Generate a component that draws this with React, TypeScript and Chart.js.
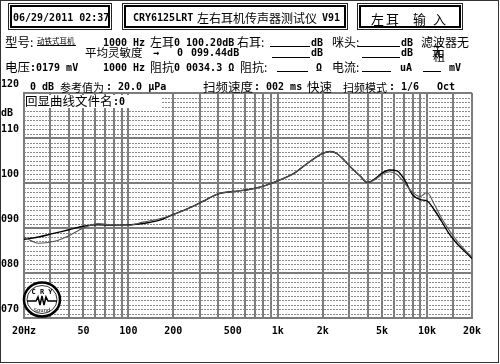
import React, { useEffect, useRef } from "react";
import { Chart, registerables } from "chart.js";
Chart.register(...registerables);

// ---- data ----
const freqs = [20, 25, 31.5, 40, 50, 63, 80, 100, 125, 160, 200, 250, 315, 400, 500, 630, 800, 1000, 1250, 1600, 2000, 2250, 2500, 2800, 3150, 3550, 4000, 4500, 5000, 5600, 6300, 7100, 8000, 9000, 10000, 11200, 12500, 14000, 16000, 18000, 20000];
const curveA = [87.5, 88.0, 88.8, 89.6, 90.4, 90.7, 90.6, 90.7, 91.0, 91.7, 93.0, 94.3, 95.9, 97.6, 98.1, 98.5, 99.3, 100.5, 101.9, 104.5, 106.6, 107.0, 106.5, 105.0, 103.2, 101.6, 100.1, 101.0, 102.2, 102.9, 102.7, 100.6, 97.4, 96.3, 96.0, 94.0, 91.5, 88.8, 86.4, 84.7, 83.2];
const curveB = [88.0, 86.6, 87.0, 88.3, 90.0, 91.0, 90.6, 90.6, 91.3, 92.0, 93.0, 94.3, 95.9, 97.6, 98.1, 98.5, 99.3, 100.5, 101.9, 104.5, 106.6, 107.0, 106.5, 105.0, 103.2, 101.6, 100.1, 100.8, 101.9, 102.5, 101.9, 99.9, 97.9, 97.0, 97.9, 95.2, 92.2, 89.6, 87.0, 85.1, 83.6];
const gridFreqs = [20, 30, 40, 50, 60, 70, 80, 90, 100, 200, 300, 400, 500, 600, 700, 800, 900, 1000, 2000, 3000, 4000, 5000, 6000, 7000, 8000, 9000, 10000, 15000, 20000];
const xLabelFreqs = [20, 50, 100, 200, 500, 1000, 2000, 5000, 10000, 20000];
const xLabelTexts = ["20Hz", "50", "100", "200", "500", "1k", "2k", "5k", "10k", "20k"];
const yTicks = [70, 80, 90, 100, 110, 120];
const yLabels = ["070", "080", "090", "100", "110", "120"];

const mono = '"DejaVu Sans Mono", monospace';
const cjk = '"Noto Sans CJK SC", sans-serif';

function T(props: { x: number; cy: number; size?: number; c?: boolean; bold?: boolean; children: any }) {
  const size = props.size ?? (props.c ? 12 : 10);
  const top = props.c ? props.cy - size / 2 : props.cy - 0.48 * size;
  return (
    <span
      style={{
        position: "absolute",
        left: props.x,
        top,
        fontFamily: props.c ? cjk : mono,
        fontSize: size,
        fontWeight: props.bold === false ? "normal" : props.c ? "normal" : "bold",
        lineHeight: 1,
        whiteSpace: "pre",
        color: "#000",
      }}
    >
      {props.children}
    </span>
  );
}

function U(props: { x1: number; x2: number; y: number }) {
  return (
    <div style={{ position: "absolute", left: props.x1, top: props.y, width: props.x2 - props.x1, height: 1, background: "#000" }} />
  );
}

function Box(props: { x: number; w: number; children?: any }) {
  return (
    <div style={{ position: "absolute", left: props.x, top: 3, width: props.w, height: 27, boxSizing: "border-box", border: "1px solid #222", padding: 1, background: "#fff" }}>
      <div style={{ width: "100%", height: "100%", boxSizing: "border-box", border: "2px solid #000" }} />
    </div>
  );
}

const minorGrid = {
  id: "minorGrid",
  beforeDatasetsDraw(chart: any) {
    const { ctx, chartArea, scales } = chart;
    const ys = scales.y;
    ctx.save();
    ctx.strokeStyle = "#8a8a8a";
    ctx.lineWidth = 1;
    ctx.setLineDash([2, 1]);
    for (let v = 71; v < 120; v++) {
      if (v % 10 === 0) continue;
      const y = Math.round(ys.getPixelForValue(v)) + 0.5;
      ctx.beginPath();
      ctx.moveTo(chartArea.left, y);
      ctx.lineTo(chartArea.right, y);
      ctx.stroke();
    }
    ctx.restore();
  },
};

export default function App() {
  const ref = useRef<HTMLCanvasElement>(null);
  useEffect(() => {
    const tickFont = { family: mono, size: 10, weight: "bold" as const };
    const chart = new Chart(ref.current!, {
      type: "line",
      data: {
        datasets: [
          {
            data: freqs.map((f, i) => ({ x: f, y: curveB[i] })),
            borderColor: "#555",
            borderWidth: 1.1,
            pointRadius: 0,
            cubicInterpolationMode: "monotone",
          },
          {
            data: freqs.map((f, i) => ({ x: f, y: curveA[i] })),
            borderColor: "#000",
            borderWidth: 1.4,
            pointRadius: 0,
            cubicInterpolationMode: "monotone",
          },
        ],
      },
      options: {
        responsive: false,
        animation: false,
        devicePixelRatio: 1,
        layout: { padding: { left: 1, top: 93, right: 28, bottom: 0 } },
        plugins: { legend: { display: false }, tooltip: { enabled: false } },
        scales: {
          x: {
            type: "logarithmic",
            min: 20,
            max: 20000,
            afterBuildTicks: (s: any) => {
              s.ticks = gridFreqs.map((v) => ({ value: v }));
            },
            afterFit: (s: any) => {
              s.height = 46;
            },
            ticks: {
              autoSkip: false,
              maxRotation: 0,
              minRotation: 0,
              padding: 7,
              color: "#000",
              font: tickFont,
              callback: (v: any) => {
                const i = xLabelFreqs.indexOf(Number(v));
                return i >= 0 ? xLabelTexts[i] : "";
              },
            },
            grid: { color: "#7c7c7c", lineWidth: 2, drawTicks: false },
            border: { display: true, color: "#7c7c7c", width: 2 },
          },
          y: {
            min: 70,
            max: 120,
            afterBuildTicks: (s: any) => {
              s.ticks = yTicks.map((v) => ({ value: v }));
            },
            afterFit: (s: any) => {
              s.width = 23;
            },
            ticks: {
              padding: 0,
              labelOffset: -9,
              crossAlign: "far",
              color: "#000",
              font: tickFont,
              callback: (v: any) => {
                const i = yTicks.indexOf(Number(v));
                return i >= 0 ? yLabels[i] : "";
              },
            },
            grid: { color: "#7c7c7c", lineWidth: 2, drawTicks: false },
            border: { display: true, color: "#7c7c7c", width: 2 },
          },
        },
      },
      plugins: [minorGrid],
    } as any);
    return () => chart.destroy();
  }, []);

  return (
    <div style={{ position: "fixed", left: 0, top: 0, width: 500, height: 364, background: "#fff", overflow: "hidden" }}>
      <canvas ref={ref} width={500} height={364} style={{ position: "absolute", left: 0, top: 0 }} />
      <div style={{ position: "absolute", left: 0, top: 0, width: 499, height: 363, boxSizing: "border-box", border: "1px solid #333" }} />

      {/* header boxes */}
      <Box x={8} w={104} />
      <Box x={122} w={226} />
      <Box x={357} w={106} />
      <T x={13} cy={17.5}>06/29/2011 02:37</T>
      <T x={133} cy={17.5}>CRY6125LRT</T>
      <T x={197} cy={18} c size={12}>左右耳机传声器测试仪</T>
      <T x={322} cy={17.5}>V91</T>
      <T x={371} cy={18} c size={13}>左</T>
      <T x={386} cy={18} c size={13}>耳</T>
      <T x={413} cy={18} c size={13}>输</T>
      <T x={433} cy={18} c size={13}>入</T>

      {/* row 1 */}
      <T x={5} cy={42} c size={12.5}>型号:</T>
      <T x={37} cy={41} c size={7.5}>动铁式耳机</T>
      <U x1={37} x2={76} y={45} />
      <T x={103} cy={42.5}>1000 Hz</T>
      <T x={150} cy={42} c size={12}>左耳</T>
      <T x={174} cy={42.5}>0 100.20dB</T>
      <T x={237} cy={42} c size={12}>右耳:</T>
      <U x1={270} x2={310} y={46} />
      <T x={311} cy={42.5}>dB</T>
      <T x={332} cy={42} c size={12}>咪头:</T>
      <U x1={358} x2={400} y={46} />
      <T x={401} cy={42.5}>dB</T>
      <T x={421} cy={42} c size={12}>滤波器无</T>

      {/* row 2 */}
      <T x={85} cy={53} c size={11.5}>平均灵敏度</T>
      <T x={153} cy={53}>→</T>
      <T x={177} cy={53}>0</T>
      <T x={191} cy={53}>099.44dB</T>
      <U x1={272} x2={310} y={57} />
      <T x={311} cy={53}>dB</T>
      <U x1={362} x2={400} y={57} />
      <T x={401} cy={53}>dB</T>
      <T x={432} cy={51} c size={12}>无</T>
      <T x={433} cy={56} c size={12}>粗</T>

      {/* row 3 */}
      <T x={5} cy={67} c size={12.5}>电压</T>
      <T x={30} cy={67.3}>:0179 mV</T>
      <T x={103} cy={67.3}>1000 Hz</T>
      <T x={150} cy={67} c size={12}>阻抗</T>
      <T x={174} cy={67.3}>0 0034.3 Ω</T>
      <T x={240} cy={67} c size={12}>阻抗:</T>
      <U x1={277} x2={308} y={71} />
      <T x={316} cy={67.3}>Ω</T>
      <T x={332} cy={67} c size={12}>电流:</T>
      <U x1={362} x2={391} y={71} />
      <T x={400} cy={67.3}>uA</T>
      <U x1={423} x2={441} y={71} />
      <T x={449} cy={67.3}>mV</T>

      {/* row 4 */}
      <T x={30} cy={86.5}>0 dB</T>
      <T x={60} cy={87} c size={11}>参考值为</T>
      <T x={106} cy={86.5}>: 20.0 μPa</T>
      <T x={203} cy={87} c size={12.5}>扫频速度</T>
      <T x={254} cy={86.5}>: 002 ms</T>
      <T x={307} cy={87} c size={12.5}>快速</T>
      <T x={343} cy={87} c size={11}>扫频模式</T>
      <T x={389} cy={86.5}>: 1/6</T>
      <T x={437} cy={86.5}>Oct</T>

      <T x={1} cy={113}>dB</T>

      {/* overlay label inside plot */}
      <div style={{ position: "absolute", left: 25, top: 95, width: 137, height: 13, background: "#fff" }} />
      <T x={25} cy={101.5} c size={12.5}>回显曲线文件名</T>
      <T x={113} cy={101.5}>:0</T>

      {/* logo */}
      <svg width={40} height={40} style={{ position: "absolute", left: 22, top: 280 }}>
        <ellipse cx={20} cy={19.5} rx={18} ry={17} stroke="#000" strokeWidth={2.5} fill="#fff" />
        <ellipse cx={20} cy={19.5} rx={15} ry={14} stroke="#000" strokeWidth={0.8} fill="none" />
        <text x={20} y={14} fontSize={7} textAnchor="middle" fontFamily={mono} fontWeight="bold">C R Y</text>
        <path d="M5 21 H14 L16 17 L18 25 L20 16 L22 25 L24 17 L26 21 H35" stroke="#000" strokeWidth={1.5} fill="none" />
        <text x={20} y={32} fontSize={5.5} textAnchor="middle" fontFamily={mono}>Sound</text>
      </svg>
    </div>
  );
}
